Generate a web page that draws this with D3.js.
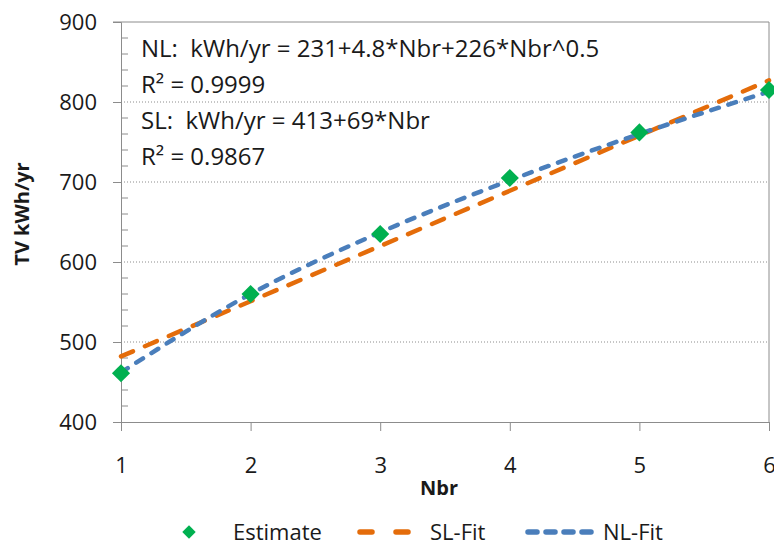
<!DOCTYPE html>
<html>
<head>
<meta charset="utf-8">
<script src="https://cdn.jsdelivr.net/npm/d3@7"></script>
<style>
  body { margin: 0; background: #fff; }
  svg text { font-family: "Open Sans", "Liberation Sans", sans-serif; fill: #1a1a1a; }
</style>
</head>
<body>
<svg id="chart" width="774" height="542"></svg>
<script>
// data
const nbr = [1, 2, 3, 4, 5, 6];
const estimate = [461, 560, 635, 705, 762, 815];
const slFit = [482, 551, 620, 689, 758, 827];
const nlFit = [462, 560, 637, 702, 760, 813];
const yTicks = [400, 500, 600, 700, 800, 900];
const notes = [
  "NL:  kWh/yr = 231+4.8*Nbr+226*Nbr^0.5",
  "R\u00b2 = 0.9999",
  "SL:  kWh/yr = 413+69*Nbr",
  "R\u00b2 = 0.9867"
];

const svg = d3.select('#chart');
const pLeft = 121, pRight = 769, pTop = 22, pBottom = 422;

const x = d3.scaleLinear().domain([1, 6]).range([pLeft, pRight]);
const y = d3.scaleLinear().domain([400, 900]).range([pBottom, pTop]);

// dotted gridlines
svg.append('g').selectAll('line')
  .data(yTicks.filter(d => d > 400 && d < 900))
  .enter().append('line')
  .attr('x1', pLeft).attr('x2', pRight)
  .attr('y1', d => y(d)).attr('y2', d => y(d))
  .attr('stroke', '#8c8c8c').attr('stroke-width', 1)
  .attr('stroke-dasharray', '1,2');

// frame top + right
svg.append('line').attr('x1', pLeft - 8).attr('x2', pRight).attr('y1', pTop).attr('y2', pTop)
  .attr('stroke', '#8c8c8c');
svg.append('line').attr('x1', pRight).attr('x2', pRight).attr('y1', pTop).attr('y2', pBottom)
  .attr('stroke', '#8c8c8c');

// y axis
const yAxis = svg.append('g').attr('transform', `translate(${pLeft},0)`)
  .call(d3.axisLeft(y).tickValues(yTicks).tickSize(8).tickPadding(16));
yAxis.select('.domain').attr('stroke', '#8c8c8c');
yAxis.selectAll('.tick line').attr('stroke', '#8c8c8c');
yAxis.selectAll('text').attr('font-size', 22).attr('fill', '#1a1a1a')
  .style('font-family', '"Open Sans", sans-serif');
// minor ticks inside
const minor = d3.range(420, 900, 20).filter(d => d % 100 !== 0);
svg.append('g').selectAll('line').data(minor).enter().append('line')
  .attr('x1', pLeft).attr('x2', pLeft + 7)
  .attr('y1', d => y(d)).attr('y2', d => y(d))
  .attr('stroke', '#8c8c8c');

// x axis
const xAxis = svg.append('g').attr('transform', `translate(0,${pBottom})`)
  .call(d3.axisBottom(x).tickValues(nbr).tickFormat(d3.format('d')).tickSize(9).tickPadding(26));
xAxis.select('.domain').attr('stroke', '#8c8c8c');
xAxis.selectAll('.tick line').attr('stroke', '#8c8c8c');
xAxis.selectAll('text').attr('font-size', 22).attr('fill', '#1a1a1a')
  .style('font-family', '"Open Sans", sans-serif');

// titles
svg.append('text').attr('x', 439).attr('y', 495)
  .attr('text-anchor', 'middle').attr('font-size', 20).attr('font-weight', 'bold').text('Nbr');
svg.append('text').attr('transform', 'translate(29,214) rotate(-90)')
  .attr('text-anchor', 'middle').attr('font-size', 20).attr('font-weight', 'bold').text('TV kWh/yr');

// fit lines
const pts = a => nbr.map((n, i) => [n, a[i]]);
const line = d3.line().x(d => x(d[0])).y(d => y(d[1]));
const curve = d3.line().x(d => x(d[0])).y(d => y(d[1])).curve(d3.curveMonotoneX);

svg.append('path').datum(pts(slFit)).attr('d', line)
  .attr('fill', 'none').attr('stroke', '#E46C0A').attr('stroke-width', 4.5)
  .attr('stroke-linecap', 'round').attr('stroke-dasharray', '13,13');
svg.append('path').datum(pts(nlFit)).attr('d', curve)
  .attr('fill', 'none').attr('stroke', '#4A7EBB').attr('stroke-width', 4.5)
  .attr('stroke-linecap', 'round').attr('stroke-dasharray', '8,10');

// estimate diamonds
const diamond = d3.symbol().type(d3.symbolDiamond2).size(210);
svg.append('g').selectAll('path').data(pts(estimate)).enter().append('path')
  .attr('d', diamond)
  .attr('transform', d => `translate(${x(d[0])},${y(d[1])})`)
  .attr('fill', '#00B050');

// equations
svg.append('g').selectAll('text').data(notes).enter().append('text')
  .attr('x', 141).attr('y', (d, i) => 57 + i * 36)
  .attr('font-size', 24).style('white-space', 'pre').text(d => d);

// legend
const ly = 532;
svg.append('path').attr('d', d3.symbol().type(d3.symbolDiamond2).size(115)())
  .attr('transform', `translate(189,${ly})`).attr('fill', '#00B050');
svg.append('text').attr('x', 233).attr('y', ly + 8).attr('font-size', 22).text('Estimate');
svg.append('line').attr('x1', 360).attr('x2', 410).attr('y1', ly).attr('y2', ly)
  .attr('stroke', '#E46C0A').attr('stroke-width', 5.5).attr('stroke-linecap', 'round')
  .attr('stroke-dasharray', '12,24');
svg.append('text').attr('x', 430).attr('y', ly + 8).attr('font-size', 22).text('SL-Fit');
svg.append('line').attr('x1', 528).attr('x2', 594).attr('y1', ly).attr('y2', ly)
  .attr('stroke', '#4A7EBB').attr('stroke-width', 5.5).attr('stroke-linecap', 'round')
  .attr('stroke-dasharray', '9,9');
svg.append('text').attr('x', 603).attr('y', ly + 8).attr('font-size', 22).text('NL-Fit');
</script>
</body>
</html>
